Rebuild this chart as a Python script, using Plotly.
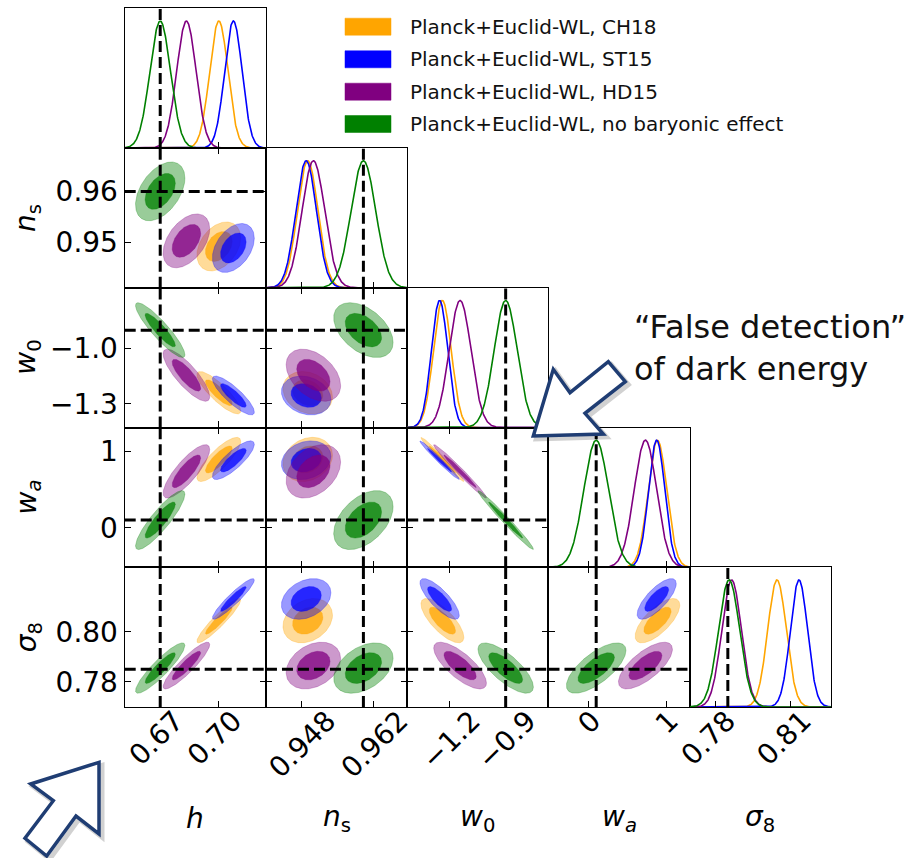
import numpy as np
import plotly.graph_objects as go

# ---------------- data ----------------
param_titles = ["<i>h</i>", "<i>n</i><sub>s</sub>", "<i>w</i><sub>0</sub>",
                "<i>w</i><sub><i>a</i></sub>", "<i>σ</i><sub>8</sub>"]
fiducial = [0.67, 0.96, -0.90, 0.10, 0.785]

model_names = ["Planck+Euclid-WL, CH18", "Planck+Euclid-WL, ST15",
               "Planck+Euclid-WL, HD15", "Planck+Euclid-WL, no baryonic effect"]
model_colors = ["#FFA500", "#0000FF", "#800080", "#008000"]

# parameter order: h, n_s, w_0, w_a, sigma_8
mean_ch18 = [0.7002, 0.9492, -1.240, 0.890, 0.8045]
mean_st15 = [0.7077, 0.9489, -1.255, 0.880, 0.8132]
mean_hd15 = [0.6835, 0.9503, -1.145, 0.735, 0.7865]
mean_nobar = [0.6700, 0.9600, -0.900, 0.100, 0.7855]

sigma_ch18 = [0.0047, 0.0020, 0.048, 0.120, 0.0037]
sigma_st15 = [0.0045, 0.0020, 0.044, 0.105, 0.0034]
sigma_hd15 = [0.0050, 0.0022, 0.059, 0.145, 0.0039]
sigma_nobar = [0.0053, 0.0024, 0.062, 0.160, 0.0042]

corr_pairs = [(0, 1), (0, 2), (1, 2), (0, 3), (1, 3), (2, 3), (0, 4), (1, 4), (2, 4), (3, 4)]
rho_ch18 = [0.35, -0.85, -0.20, 0.82, 0.20, -0.985, 0.93, 0.25, -0.75, 0.70]
rho_st15 = [0.40, -0.85, -0.20, 0.82, 0.20, -0.985, 0.93, 0.30, -0.80, 0.75]
rho_hd15 = [0.45, -0.82, -0.40, 0.82, 0.35, -0.985, 0.90, 0.30, -0.75, 0.70]
rho_nobar = [0.45, -0.90, -0.45, 0.88, 0.45, -0.985, 0.90, 0.40, -0.75, 0.70]

x_tickvals = [[0.67, 0.70], [0.948, 0.962], [-1.2, -0.9], [0, 1], [0.78, 0.81]]
x_ticktext = [["0.67", "0.70"], ["0.948", "0.962"], ["−1.2", "−0.9"], ["0", "1"], ["0.78", "0.81"]]
y_tickvals = [[], [0.95, 0.96], [-1.3, -1.0], [0, 1], [0.78, 0.80]]
y_ticktext = [[], ["0.95", "0.96"], ["−1.3", "−1.0"], ["0", "1"], ["0.78", "0.80"]]

annotation_text = "“False detection”<br>of dark energy"

# ---------------- layout helpers ----------------
W, H = 916, 858
axis_ranges = [[0.6517, 0.7245], [0.9411, 0.9685], [-1.429, -0.670],
               [-0.515, 1.306], [0.7699, 0.8259]]
# shift of the rotated x tick labels so they sit centred on their ticks
label_shift = [15, 26, 22, 4, 12]
edges_x = [124.7 + 141.26 * i for i in range(6)]
edges_y = [8.3 + 139.74 * i for i in range(6)]
K_IN, K_OUT = 1.47, 2.40

means = [mean_ch18, mean_st15, mean_hd15, mean_nobar]
sigmas = [sigma_ch18, sigma_st15, sigma_hd15, sigma_nobar]
rhos = [rho_ch18, rho_st15, rho_hd15, rho_nobar]


def rgba(hexc, a):
    hexc = hexc.lstrip("#")
    r, g, b = int(hexc[0:2], 16), int(hexc[2:4], 16), int(hexc[4:6], 16)
    return f"rgba({r},{g},{b},{a})"


def px2paper(x, y):
    return x / W, 1 - y / H


def get_rho(m, i, j):
    for p, (a, b) in enumerate(corr_pairs):
        if (a, b) == (i, j) or (a, b) == (j, i):
            return rhos[m][p]
    return 0.0


tt = np.linspace(0, 2 * np.pi, 181)


def ellipse(mx, my, sx, sy, rho, k):
    cov = np.array([[sx * sx, rho * sx * sy], [rho * sx * sy, sy * sy]])
    L = np.linalg.cholesky(cov)
    pts = (L @ np.vstack([np.cos(tt), np.sin(tt)])) * k
    return mx + pts[0], my + pts[1]


fig = go.Figure()
layout = dict(width=W, height=H, margin=dict(l=0, r=0, t=0, b=0, autoexpand=False),
              paper_bgcolor="white", plot_bgcolor="white", showlegend=False)
shapes = []
annotations = []

axis_common = dict(showline=True, linecolor="black", linewidth=1.3, showgrid=False,
                   zeroline=False, tickcolor="black", tickwidth=1.2, ticklen=6,
                   automargin=False,
                   tickfont=dict(family="DejaVu Sans", size=28, color="black"))

dash_style = dict(color="black", width=3, dash="11px,5px")

k = 0
for r in range(5):
    for c in range(r + 1):
        k += 1
        xa = "x" if k == 1 else f"x{k}"
        ya = "y" if k == 1 else f"y{k}"
        xkey = "xaxis" if k == 1 else f"xaxis{k}"
        ykey = "yaxis" if k == 1 else f"yaxis{k}"
        xdom = [edges_x[c] / W, edges_x[c + 1] / W]
        ydom = [1 - edges_y[r + 1] / H, 1 - edges_y[r] / H]
        diag = (r == c)

        layout[xkey] = dict(axis_common, domain=xdom, anchor=ya, range=axis_ranges[c],
                            tickmode="array", tickvals=x_tickvals[c], ticktext=x_ticktext[c],
                            ticks="inside", mirror=(True if diag else "allticks"),
                            showticklabels=(r == 4), tickangle=-45,
                            ticklabelshift=label_shift[c], ticklabelstandoff=-15)
        if diag:
            layout[ykey] = dict(axis_common, domain=ydom, anchor=xa, range=[0, 1.1],
                                ticks="", showticklabels=False, mirror=True)
            xs = np.linspace(axis_ranges[c][0], axis_ranges[c][1], 400)
            for m in range(4):
                mu, s = means[m][c], sigmas[m][c]
                ys = np.exp(-0.5 * ((xs - mu) / s) ** 2)
                fig.add_trace(go.Scatter(x=xs, y=ys, mode="lines", xaxis=xa, yaxis=ya,
                                         line=dict(color=model_colors[m], width=1.6),
                                         hoverinfo="skip"))
        else:
            layout[ykey] = dict(axis_common, domain=ydom, anchor=xa, range=axis_ranges[r],
                                tickmode="array", tickvals=y_tickvals[r], ticktext=y_ticktext[r],
                                ticks="inside", mirror="allticks", showticklabels=(c == 0))
            for m in range(4):
                mx, my = means[m][c], means[m][r]
                sx, sy = sigmas[m][c], sigmas[m][r]
                rho = get_rho(m, c, r)
                for kk, alpha in ((K_OUT, 0.40), (K_IN, 0.75)):
                    ex, ey = ellipse(mx, my, sx, sy, rho, kk)
                    fig.add_trace(go.Scatter(x=ex, y=ey, mode="lines", fill="toself",
                                             xaxis=xa, yaxis=ya,
                                             fillcolor=rgba(model_colors[m], alpha),
                                             line=dict(color=rgba(model_colors[m], 0.35), width=0.8),
                                             hoverinfo="skip"))
            # horizontal fiducial line
            shapes.append(dict(type="line", xref=f"{xa} domain", yref=ya, x0=0, x1=1,
                               y0=fiducial[r], y1=fiducial[r], line=dash_style, layer="above"))
        # vertical fiducial line
        shapes.append(dict(type="line", xref=xa, yref=f"{ya} domain", x0=fiducial[c], x1=fiducial[c],
                           y0=0, y1=1, line=dash_style, layer="above"))

# axis titles
title_font = dict(family="DejaVu Sans", size=28, color="black")
for r in range(1, 5):
    yc = (edges_y[r] + edges_y[r + 1]) / 2
    annotations.append(dict(text=param_titles[r], xref="paper", yref="paper",
                            x=28 / W, y=1 - yc / H, xanchor="center", yanchor="middle",
                            textangle=-90, showarrow=False, font=title_font))
for c in range(5):
    xc = (edges_x[c] + edges_x[c + 1]) / 2
    annotations.append(dict(text=param_titles[c], xref="paper", yref="paper",
                            x=xc / W, y=1 - 818 / H, xanchor="center", yanchor="middle",
                            showarrow=False, font=title_font))

# legend (drawn manually)
leg_y = [26.7, 59.3, 91.7, 124.0]
for m in range(4):
    x0, y0 = px2paper(345, leg_y[m] - 8.5)
    x1, y1 = px2paper(391, leg_y[m] + 8.5)
    shapes.append(dict(type="rect", xref="paper", yref="paper", x0=x0, x1=x1, y0=y1, y1=y0,
                       fillcolor=model_colors[m], line=dict(color=rgba(model_colors[m], 0.5), width=1)))
    tx, ty = px2paper(408, leg_y[m])
    annotations.append(dict(text=model_names[m], xref="paper", yref="paper", x=tx, y=ty,
                            xanchor="left", yanchor="middle", showarrow=False,
                            font=dict(family="DejaVu Sans", size=20, color="#111111")))

# "False detection" note
ax_, ay_ = px2paper(632, 306)
annotations.append(dict(text=annotation_text, xref="paper", yref="paper", x=ax_, y=ay_,
                        xanchor="left", yanchor="top", align="left", showarrow=False,
                        font=dict(family="DejaVu Sans", size=32, color="#111111")))

# decorative block arrows
arrow1 = [(99, 762.3), (30.7, 784), (53.3, 800.7), (25, 838.3), (46.7, 856), (76, 816), (99, 834)]
arrow2 = [(533.3, 436), (553.3, 369.3), (570, 392.7), (608.3, 361.7), (625.3, 381.7), (585, 413.3), (603.3, 434)]


def path_of(pts, dx=0.0, dy=0.0):
    parts = []
    for i, (x, y) in enumerate(pts):
        px_, py_ = px2paper(x + dx, y + dy)
        parts.append(("M" if i == 0 else "L") + f"{px_:.5f},{py_:.5f}")
    return " ".join(parts) + " Z"


for pts in (arrow1, arrow2):
    shapes.append(dict(type="path", xref="paper", yref="paper", path=path_of(pts, 3, 3),
                       line=dict(color="rgba(0,0,0,0.18)", width=5), layer="above"))
    shapes.append(dict(type="path", xref="paper", yref="paper", path=path_of(pts),
                       fillcolor="white", line=dict(color="#1F3D73", width=3.5), layer="above"))

layout["shapes"] = shapes
layout["annotations"] = annotations
fig.update_layout(**layout)
fig.write_html("out.html", config={"displayModeBar": False},
               post_script="document.body.style.margin='0px';")
